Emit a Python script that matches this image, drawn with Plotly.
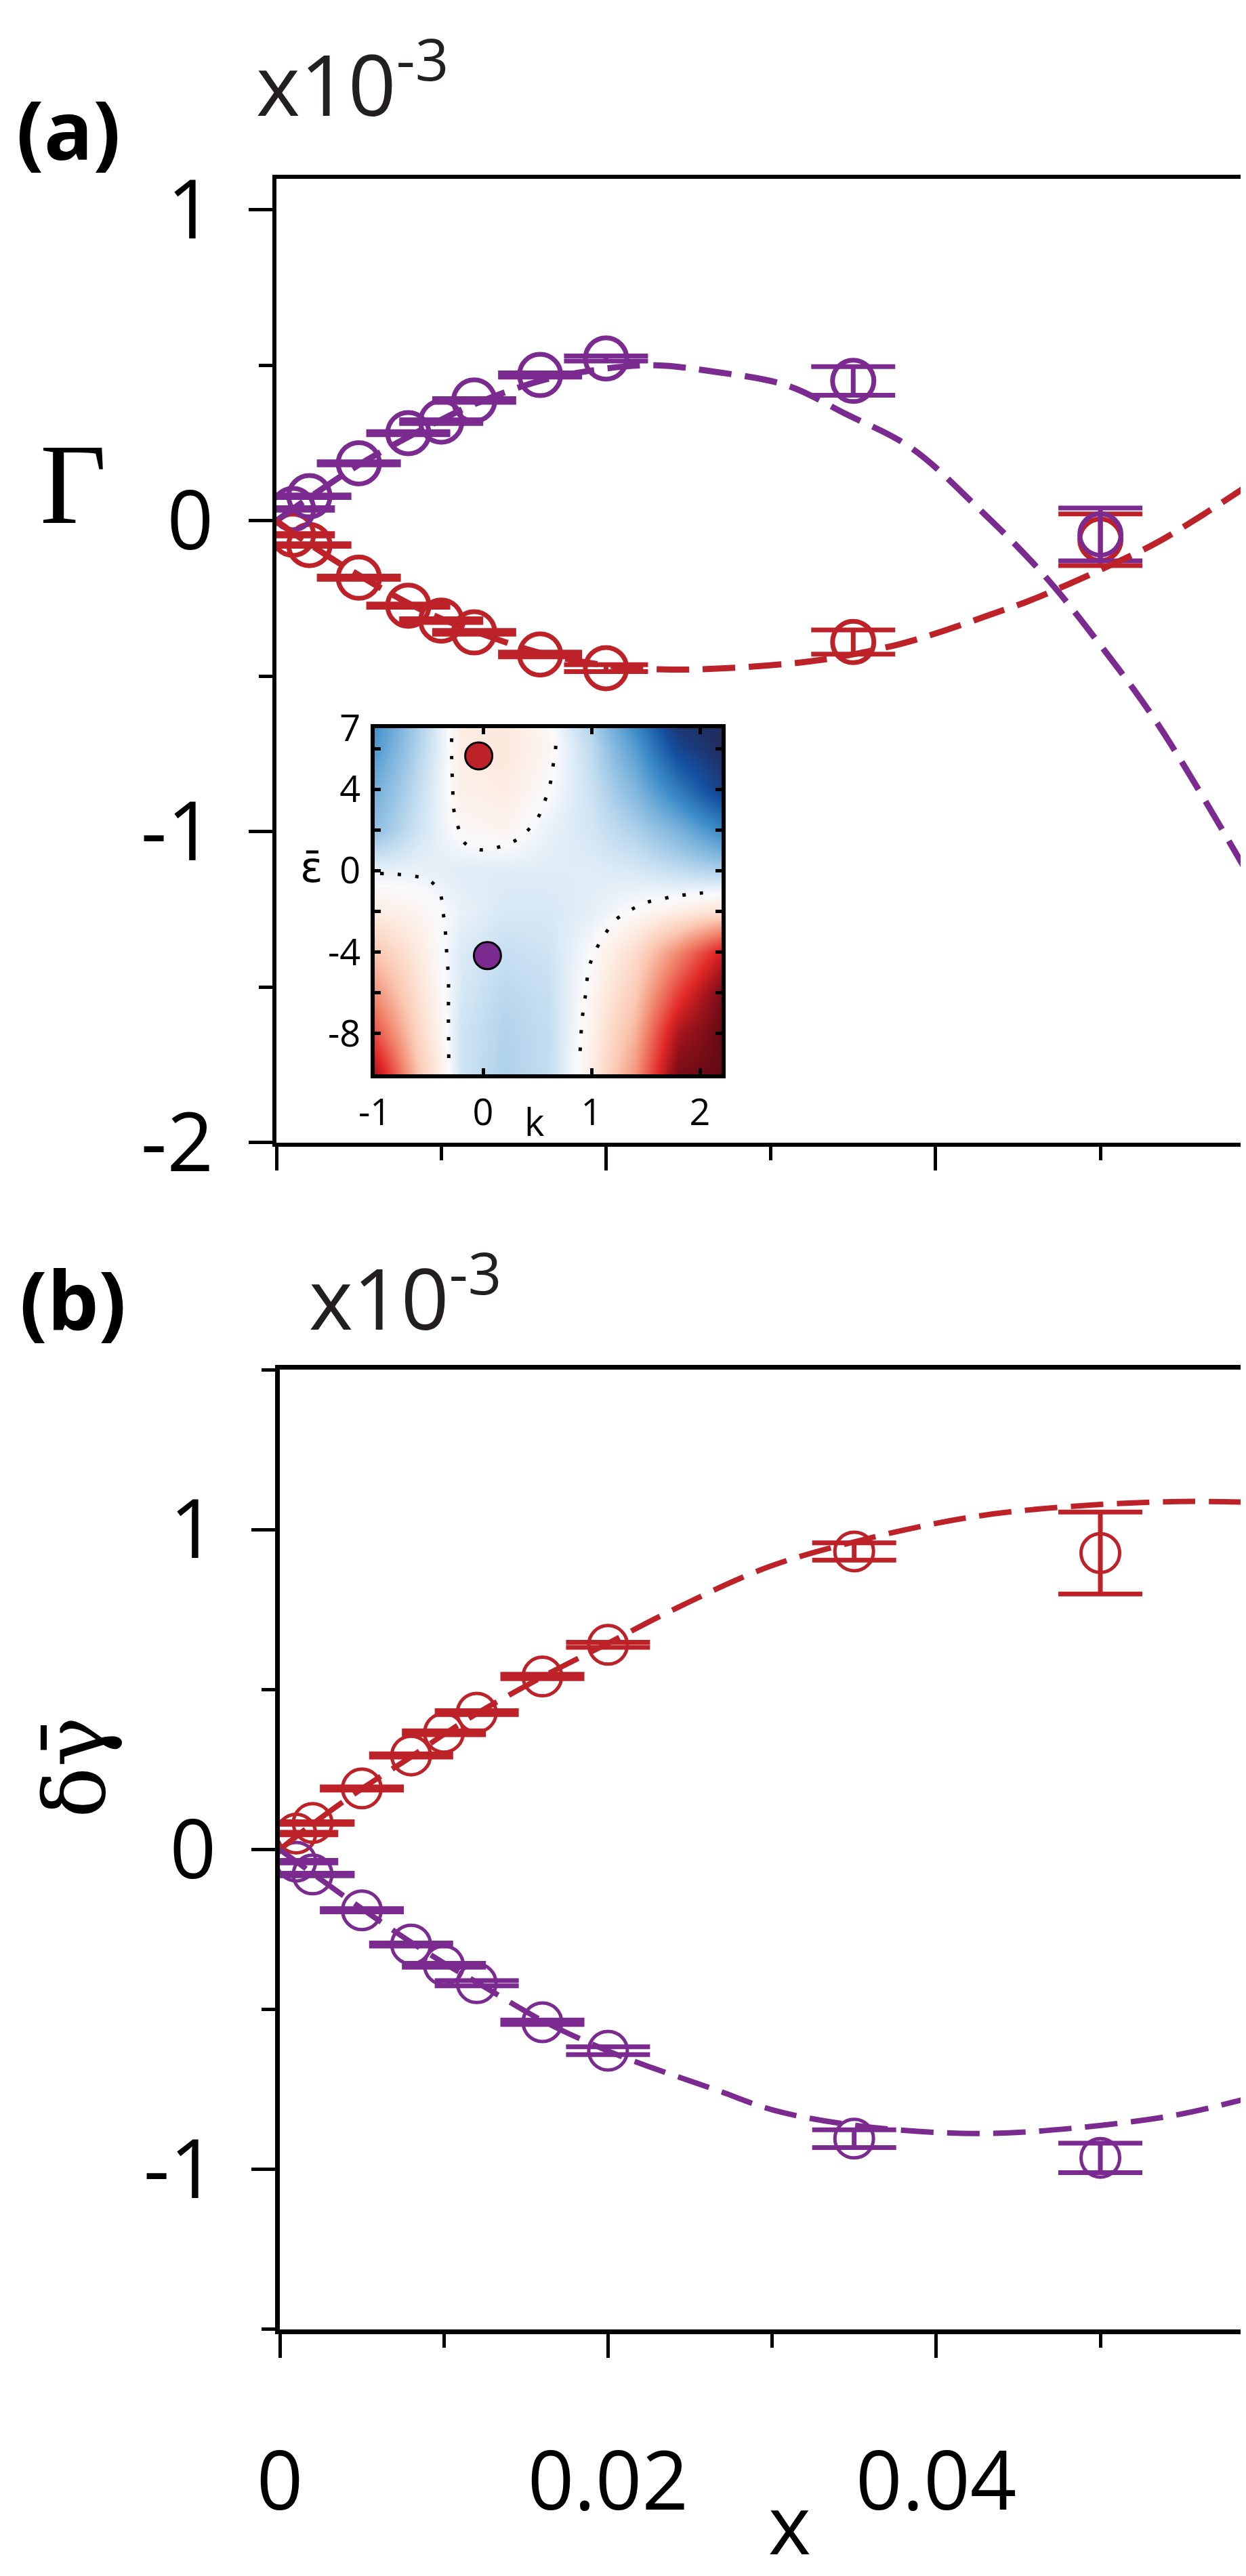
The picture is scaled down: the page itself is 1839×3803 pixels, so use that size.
import plotly.graph_objects as go

W, H = 1839, 3803
PURPLE = '#7B2A90'
RED = '#BE2229'
FONT = 'Open Sans'

# measured points (x, value in units of 1e-3)
x_pts = [0.001, 0.002, 0.005, 0.008, 0.010, 0.012, 0.016, 0.020, 0.035, 0.050]

gamma_purple = [0.038, 0.079, 0.185, 0.282, 0.319, 0.387, 0.469, 0.522, 0.45, -0.044]
gamma_purple_err = [0.004, 0.004, 0.005, 0.005, 0.006, 0.006, 0.007, 0.008, 0.046, 0.085]
gamma_red = [-0.045, -0.078, -0.183, -0.273, -0.321, -0.359, -0.43, -0.474, -0.39, -0.061]
gamma_red_err = [0.004, 0.004, 0.005, 0.005, 0.006, 0.006, 0.0075, 0.011, 0.039, 0.083]

dgamma_red = [0.05, 0.083, 0.191, 0.294, 0.365, 0.428, 0.541, 0.640, 0.932, 0.927]
dgamma_red_err = [0.004, 0.004, 0.005, 0.005, 0.006, 0.006, 0.007, 0.008, 0.027, 0.128]
dgamma_purple = [-0.038, -0.078, -0.19, -0.297, -0.362, -0.418, -0.54, -0.629, -0.904, -0.964]
dgamma_purple_err = [0.004, 0.004, 0.005, 0.005, 0.006, 0.008, 0.007, 0.012, 0.028, 0.046]

# fitted curves
fit_a_purple_x = [0, 0.002, 0.005, 0.008, 0.010, 0.012, 0.016, 0.020, 0.023, 0.0265,
                  0.031, 0.0345, 0.0385, 0.0425, 0.0465, 0.050, 0.0535, 0.059]
fit_a_purple_y = [0, 0.075, 0.18, 0.27, 0.325, 0.375, 0.45, 0.49, 0.50, 0.48,
                  0.435, 0.345, 0.235, 0.045, -0.17, -0.40, -0.655, -1.14]
fit_a_red_x = [0, 0.002, 0.005, 0.008, 0.010, 0.012, 0.016, 0.020, 0.0235, 0.027, 0.031,
               0.0335, 0.0378, 0.0405, 0.0431, 0.0456, 0.0481, 0.0506, 0.0533, 0.056, 0.059]
fit_a_red_y = [0, -0.075, -0.175, -0.265, -0.315, -0.355, -0.425, -0.465, -0.478, -0.475, -0.46,
               -0.444, -0.397, -0.354, -0.306, -0.259, -0.203, -0.143, -0.074, 0.012, 0.115]
fit_b_red_x = [0, 0.002, 0.005, 0.008, 0.010, 0.012, 0.016, 0.020, 0.0237, 0.0298,
               0.0362, 0.0426, 0.0491, 0.0548, 0.059]
fit_b_red_y = [0, 0.08, 0.19, 0.29, 0.36, 0.425, 0.54, 0.645, 0.743, 0.884,
               0.977, 1.043, 1.076, 1.088, 1.086]
fit_b_purple_x = [0, 0.002, 0.005, 0.008, 0.010, 0.012, 0.016, 0.020, 0.0224, 0.0265,
                  0.0301, 0.035, 0.0423, 0.0484, 0.0545, 0.0587, 0.059]
fit_b_purple_y = [0, -0.075, -0.185, -0.29, -0.355, -0.415, -0.535, -0.63, -0.677, -0.75,
                  -0.815, -0.862, -0.888, -0.871, -0.831, -0.782, -0.778]

# inset map
k_grid = [-1.0, -0.6, -0.2, 0.2, 0.6, 1.0, 1.4, 1.8, 2.2]
eps_grid = [-10, -8, -6, -4, -2, 0, 2, 4, 6, 7]
heat_z = [
    [0.82, 0.25, -0.1, -0.18, -0.13, 0.07, 0.38, 0.95, 1.0],
    [0.58, 0.18, -0.1, -0.17, -0.13, 0.05, 0.3, 0.82, 1.0],
    [0.4, 0.13, -0.08, -0.15, -0.12, 0.03, 0.22, 0.62, 0.95],
    [0.24, 0.09, -0.07, -0.12, -0.1, 0.0, 0.15, 0.42, 0.72],
    [0.08, 0.04, -0.04, -0.08, -0.08, -0.05, 0.01, 0.07, 0.14],
    [-0.04, -0.04, -0.06, -0.06, -0.06, -0.06, -0.08, -0.13, -0.18],
    [-0.26, -0.1, 0.02, 0.04, -0.04, -0.09, -0.18, -0.32, -0.52],
    [-0.34, -0.13, 0.06, 0.08, 0.005, -0.11, -0.3, -0.58, -0.86],
    [-0.44, -0.17, 0.07, 0.1, 0.03, -0.14, -0.42, -0.82, -1.0],
    [-0.48, -0.19, 0.08, 0.1, 0.02, -0.17, -0.5, -0.92, -1.0],
]
contour_top_k = [-0.29, -0.29, -0.28, -0.27, -0.23, -0.17, -0.03, 0.13, 0.28, 0.41,
                 0.51, 0.57, 0.62, 0.645, 0.667, 0.68]
contour_top_eps = [6.5, 5.6, 4.0, 3.0, 2.14, 1.36, 1.03, 1.14, 1.43, 1.97,
                   2.64, 3.43, 4.29, 5.14, 5.93, 6.79]
contour_left_k = [-0.95, -0.81, -0.645, -0.5, -0.4, -0.37, -0.35, -0.336, -0.32, -0.32,
                  -0.317, -0.317]
contour_left_eps = [-0.14, -0.17, -0.26, -0.46, -1.07, -2.0, -2.86, -4.0, -5.29, -7.14,
                    -8.79, -9.71]
contour_right_k = [0.895, 0.914, 0.94, 0.98, 1.05, 1.13, 1.22, 1.36, 1.5, 1.67, 1.83,
                   1.99, 2.14]
contour_right_eps = [-8.86, -7.29, -6.29, -4.71, -3.79, -3.07, -2.43, -1.93, -1.57, -1.36,
                     -1.21, -1.11, -1.03]
dot_k = [-0.04, 0.04]
dot_eps = [5.64, -4.17]

# ticks
x_ticks = [0, 0.02, 0.04]
x_ticktext = ['0', '0.02', '0.04']
x_minor = [0.01, 0.03, 0.05]
ya_ticks = [-2, -1, 0, 1]
ya_ticktext = ['-2', '-1', '0', '1']
ya_minor = [-1.5, -0.5, 0.5]
yb_ticks = [-1, 0, 1]
yb_ticktext = ['-1', '0', '1']
yb_minor = [-1.5, -0.5, 0.5, 1.5]
k_ticks = [-1, 0, 1, 2]
k_ticktext = ['-1', '0', '1', '2']
eps_ticks = [-8, -4, 0, 4, 7]
eps_ticktext = ['-8', '-4', '0', '4', '7']
eps_minor = [-6, -2, 2, 6]

heat_scale = [
    [0.0, 'rgb(33,43,92)'], [0.12, 'rgb(20,80,160)'], [0.25, 'rgb(60,140,200)'],
    [0.38, 'rgb(150,195,228)'], [0.46, 'rgb(215,232,245)'], [0.5, 'rgb(250,250,252)'],
    [0.54, 'rgb(253,236,226)'], [0.62, 'rgb(250,200,178)'], [0.72, 'rgb(240,130,105)'],
    [0.84, 'rgb(225,40,38)'], [0.92, 'rgb(160,20,28)'], [1.0, 'rgb(100,10,20)'],
]


def px(x):
    return x / W


def py(y):
    return 1 - y / H


def points(x, y, err, color, xa, ya, size, lw):
    return go.Scatter(x=x, y=y, mode='markers', xaxis=xa, yaxis=ya, showlegend=False,
                      marker=dict(symbol='circle-open', size=size, color=color,
                                  line=dict(width=lw, color=color)),
                      error_y=dict(type='data', array=err, visible=True, color=color,
                                   thickness=7, width=62))


def curve(x, y, color, xa, ya, width):
    return go.Scatter(x=x, y=y, mode='lines', xaxis=xa, yaxis=ya, showlegend=False,
                      line=dict(color=color, width=width, dash='48px,20px', shape='spline'))


def contour(k, e):
    return go.Scatter(x=k, y=e, mode='lines', xaxis='x3', yaxis='y3', showlegend=False,
                      line=dict(color='black', width=5, dash='5px,21px', shape='spline'))


def main_axis(domain, rng, ticks, ticktext, minor, labels, standoff, anchor, lw):
    return dict(domain=domain, range=rng, anchor=anchor, automargin=False,
                tickmode='array', tickvals=ticks,
                ticktext=ticktext, showticklabels=labels, ticks='outside', ticklen=35,
                tickwidth=5, tickcolor='black', showline=True, mirror=True,
                linecolor='black', linewidth=lw, showgrid=False, zeroline=False,
                ticklabelstandoff=standoff,
                tickfont=dict(family=FONT, size=120, color='black'),
                minor=dict(tickmode='array', tickvals=minor, ticks='outside', ticklen=20,
                           tickwidth=5, tickcolor='black', showgrid=False))


def inset_axis(domain, rng, ticks, ticktext, anchor, minor=None):
    ax = dict(domain=domain, range=rng, anchor=anchor, automargin=False, tickmode='array',
              tickvals=ticks, ticktext=ticktext, ticks='inside', ticklen=9,
              tickwidth=5, tickcolor='black', showline=True, mirror='ticks',
              linecolor='black', linewidth=6, showgrid=False, zeroline=False,
              ticklabelstandoff=4, tickfont=dict(family=FONT, size=54, color='black'))
    if minor:
        ax['minor'] = dict(tickmode='array', tickvals=minor, ticks='inside', ticklen=9,
                           tickwidth=5, tickcolor='black', showgrid=False)
    return ax


fig = go.Figure()
fig.add_trace(points(x_pts, gamma_red, gamma_red_err, RED, 'x', 'y', 61, 7))
fig.add_trace(points(x_pts, gamma_purple, gamma_purple_err, PURPLE, 'x', 'y', 61, 7))
fig.add_trace(curve(fit_a_purple_x, fit_a_purple_y, PURPLE, 'x', 'y', 9))
fig.add_trace(curve(fit_a_red_x, fit_a_red_y, RED, 'x', 'y', 9))

fig.add_trace(points(x_pts, dgamma_red, dgamma_red_err, RED, 'x2', 'y2', 57, 5))
fig.add_trace(points(x_pts, dgamma_purple, dgamma_purple_err, PURPLE, 'x2', 'y2', 57, 5))
fig.add_trace(curve(fit_b_red_x, fit_b_red_y, RED, 'x2', 'y2', 8))
fig.add_trace(curve(fit_b_purple_x, fit_b_purple_y, PURPLE, 'x2', 'y2', 8))

fig.add_trace(go.Heatmap(x=k_grid, y=eps_grid, z=heat_z, colorscale=heat_scale, zmin=-1,
                         zmax=1, zsmooth='best', showscale=False, xaxis='x3', yaxis='y3'))
fig.add_trace(contour(contour_top_k, contour_top_eps))
fig.add_trace(contour(contour_left_k, contour_left_eps))
fig.add_trace(contour(contour_right_k, contour_right_eps))
fig.add_trace(go.Scatter(x=dot_k, y=dot_eps, mode='markers', xaxis='x3', yaxis='y3',
                         showlegend=False,
                         marker=dict(size=40, color=[RED, PURPLE],
                                     line=dict(width=3, color='black'))))

fig.update_layout(
    template='none',
    width=W, height=H,
    margin=dict(l=0, r=0, t=0, b=0, autoexpand=False),
    paper_bgcolor='white', plot_bgcolor='white',
    xaxis=main_axis([px(400), px(1835)], [0, 0.059], x_ticks, x_ticktext, x_minor,
                    False, 0, 'y', 6),
    yaxis=main_axis([py(1679), py(256)], [-2.0005, 1.1], ya_ticks, ya_ticktext, ya_minor,
                    True, 28, 'x', 6),
    xaxis2=main_axis([px(405), px(1834)], [0, 0.059], x_ticks, x_ticktext, x_minor,
                     True, 80, 'y2', 7),
    yaxis2=main_axis([py(3431), py(2014)], [-1.5005, 1.5005], yb_ticks, yb_ticktext,
                     yb_minor, True, 28, 'x2', 7),
    xaxis3=inset_axis([px(545), px(1057)], [-1, 2.2], k_ticks, k_ticktext, 'y3'),
    yaxis3=inset_axis([py(1578), py(1067)], [-10, 7], eps_ticks, eps_ticktext, 'x3',
                      eps_minor),
)

notes = [
    ('<b>(a)</b>', 93, 182, 'center', dict(family=FONT, size=120, color='black'), 0),
    ('x10<sup>-3</sup>', 368, 108, 'left', dict(family=FONT, size=124, color='#231F20'), 0),
    ('Γ', 100, 707, 'center', dict(family='Liberation Serif', size=170, color='black'), 0),
    ('<b>(b)</b>', 99, 1909, 'center', dict(family=FONT, size=120, color='black'), 0),
    ('x10<sup>-3</sup>', 446, 1900, 'left', dict(family=FONT, size=124, color='#231F20'), 0),
    ('δγ̄', 102, 2601, 'center', dict(family='DejaVu Serif', size=125, color='black'), -90),
    ('x', 1157, 3716, 'center', dict(family=FONT, size=120, color='black'), 0),
    ('k', 780, 1647, 'center', dict(family=FONT, size=56, color='black'), 0),
    ('ε̄', 452, 1272, 'center', dict(family='DejaVu Sans', size=62, color='black'), 0),
]
for text, nx, ny, anchor, font, angle in notes:
    fig.add_annotation(text=text, x=px(nx), y=py(ny), xref='paper', yref='paper',
                       xanchor=anchor, yanchor='middle', showarrow=False, font=font,
                       textangle=angle)

fig.write_html("out.html")
